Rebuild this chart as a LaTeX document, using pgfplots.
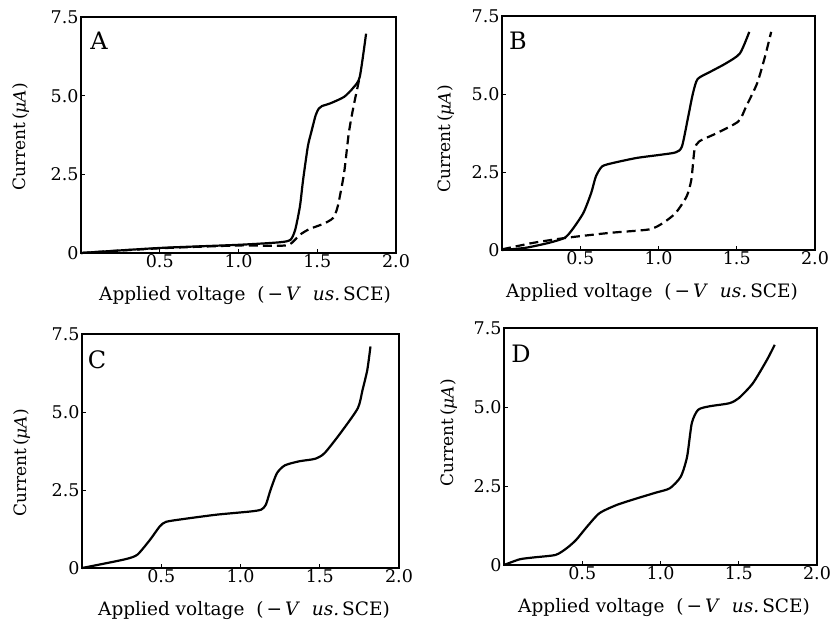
\documentclass[border=0pt]{standalone}
\usepackage{pgfplots}
\pgfplotsset{compat=1.18}
\usepackage{fontspec}
\setmainfont{DejaVu Serif}
\begin{document}
\begin{tikzpicture}[x=1pt,y=1pt]
\path[use as bounding box] (0,0) rectangle (834,625);
\pgfplotsset{
 panel/.style={scale only axis, anchor=south west, xmin=0,xmax=2,ymin=0,ymax=7.5,
  axis line style={line width=1.5pt},
  xtick={0.5,1,1.5,2}, xticklabels={0.5,1.0,1.5,2.0},
  ytick={0,2.5,5,7.5}, yticklabels={0,2.5,5.0,7.5},
  xtick pos=bottom, ytick pos=left,
  tick align=inside, major tick length=4pt, tick style={line width=1pt,black},
  ticklabel style={font=\fontsize{17.5}{19}\selectfont},
  xticklabel style={yshift=2pt},
  yticklabel style={xshift=1pt},
  /pgf/number format/assume math mode=true,
  clip=false},
 sol/.style={black, line width=2.2pt, smooth, tension=0.4},
 das/.style={black, line width=2.2pt, smooth, tension=0.4, dash pattern=on 9pt off 5pt},
}
% Panel A
\begin{axis}[panel, at={(81pt,372pt)}, width=315pt, height=236pt]
\addplot[sol] coordinates {(0,0) (0.5,0.16) (1.0,0.26) (1.26,0.34) (1.33,0.42) (1.36,0.74) (1.39,1.48) (1.41,2.32) (1.44,3.38) (1.46,3.80) (1.49,4.38) (1.51,4.59) (1.53,4.67) (1.58,4.75) (1.67,4.96) (1.73,5.26) (1.77,5.60) (1.81,6.97)};
\addplot[das] coordinates {(0,0) (0.5,0.15) (1.0,0.24) (1.2,0.23) (1.32,0.26) (1.39,0.58) (1.45,0.76) (1.54,0.93) (1.60,1.11) (1.63,1.48) (1.67,2.53) (1.70,3.80) (1.73,4.65) (1.77,5.60)};
\end{axis}
% Panel B
\begin{axis}[panel, at={(502pt,375pt)}, width=313pt, height=234pt]
\addplot[sol] coordinates {(0,0) (0.15,0.07) (0.30,0.23) (0.40,0.39) (0.45,0.66) (0.52,1.19) (0.57,1.83) (0.60,2.36) (0.64,2.68) (0.71,2.79) (0.86,2.95) (1.01,3.05) (1.11,3.13) (1.15,3.32) (1.19,4.28) (1.22,5.02) (1.25,5.48) (1.33,5.71) (1.43,5.98) (1.52,6.30) (1.58,6.99)};
\addplot[das] coordinates {(0,0.02) (0.2,0.23) (0.41,0.39) (0.69,0.55) (0.94,0.66) (1.03,0.87) (1.11,1.19) (1.18,1.72) (1.21,2.26) (1.23,3.21) (1.26,3.48) (1.37,3.74) (1.51,4.12) (1.56,4.60) (1.63,5.34) (1.68,6.19) (1.72,6.99)};
\end{axis}
% Panel C
\begin{axis}[panel, at={(82pt,57pt)}, width=317pt, height=234pt]
\addplot[sol] coordinates {(0,0) (0.11,0.11) (0.28,0.29) (0.35,0.43) (0.43,0.91) (0.49,1.33) (0.53,1.48) (0.64,1.57) (0.85,1.71) (1.06,1.81) (1.13,1.87) (1.16,2.03) (1.19,2.51) (1.23,3.04) (1.28,3.29) (1.37,3.42) (1.47,3.50) (1.53,3.68) (1.63,4.32) (1.74,5.12) (1.77,5.71) (1.80,6.35) (1.82,7.10)};
\end{axis}
% Panel D
\begin{axis}[panel, at={(504pt,60pt)}, width=313pt, height=237pt]
\addplot[sol] coordinates {(0,0) (0.10,0.18) (0.19,0.24) (0.33,0.32) (0.40,0.53) (0.46,0.79) (0.53,1.21) (0.61,1.64) (0.72,1.90) (0.85,2.11) (0.97,2.29) (1.06,2.43) (1.13,2.80) (1.17,3.43) (1.20,4.49) (1.24,4.91) (1.31,5.02) (1.44,5.12) (1.50,5.28) (1.59,5.75) (1.68,6.49) (1.73,6.97)};
\end{axis}
% panel letters
\begin{scope}[every node/.style={font=\fontsize{24}{26}\selectfont}]
\node at (99,584) {A};
\node at (518,584) {B};
\node at (97,265) {C};
\node at (521,271) {D};
\end{scope}
% axis labels
\begin{scope}[every node/.style={font=\fontsize{17}{19}\selectfont}]
\node[rotate=90] at (21,488) {Current\,(\textit{μA})};
\node[rotate=90] at (446,486) {Current\,(\textit{μA})};
\node[rotate=90] at (22,162) {Current\,(\textit{μA})};
\node[rotate=90] at (449,192) {Current\,(\textit{μA})};
\end{scope}
\begin{scope}[every node/.style={font=\fontsize{18.5}{20}\selectfont}]
\node at (245,329) {Applied voltage\ \ (\,−\,\textit{V}\ \ \textit{us.}\,SCE)};
\node at (652,332) {Applied voltage\ \ (\,−\,\textit{V}\ \ \textit{us.}\,SCE)};
\node at (244,14) {Applied voltage\ \ (\,−\,\textit{V}\ \ \textit{us.}\,SCE)};
\node at (664,17) {Applied voltage\ \ (\,−\,\textit{V}\ \ \textit{us.}\,SCE)};
\end{scope}
\end{tikzpicture}
\end{document}
